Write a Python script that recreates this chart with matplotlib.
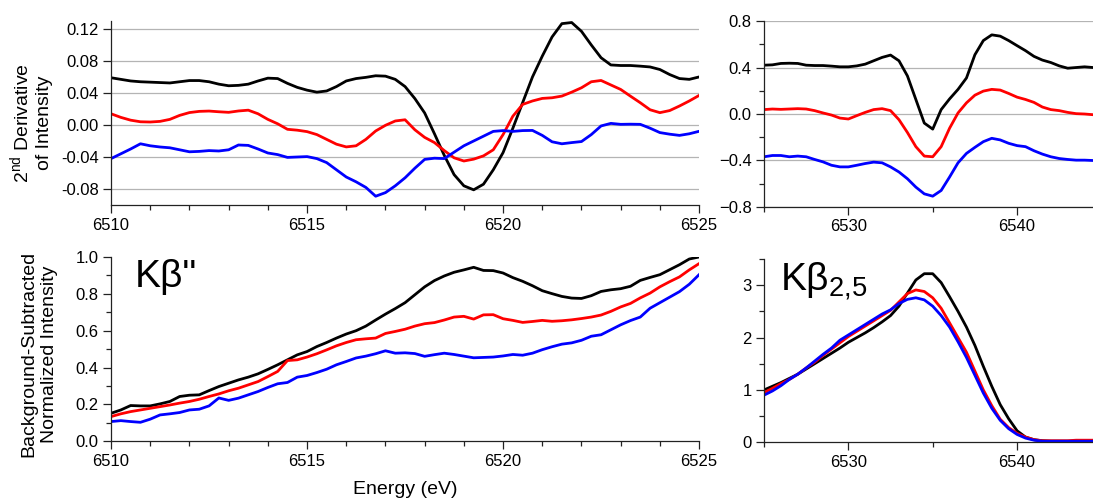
import numpy as np
import matplotlib
matplotlib.use("Agg")
import matplotlib.pyplot as plt
from matplotlib.ticker import MultipleLocator

plt.rcParams["font.family"] = ["Liberation Sans", "DejaVu Sans"]
plt.rcParams["mathtext.fontset"] = "custom"
plt.rcParams["mathtext.rm"] = "Liberation Sans"
plt.rcParams["mathtext.default"] = "regular"

# pre-edge region (Kb''), 0.25 eV steps
e_pre = np.arange(6510, 6525.001, 0.25)
# main line region (Kb2,5), 0.5 eV steps
e_main = np.arange(6525, 6544.501, 0.5)

d2_pre_black = [0.059, 0.057, 0.055, 0.054, 0.0535, 0.053, 0.0525, 0.054, 0.0555, 0.0555,
                0.054, 0.051, 0.049, 0.0495, 0.051, 0.055, 0.0585, 0.058, 0.052, 0.047,
                0.0435, 0.041, 0.0425, 0.048, 0.055, 0.058, 0.0595, 0.0615, 0.061, 0.057,
                0.048, 0.033, 0.015, -0.011, -0.038, -0.062, -0.076, -0.081, -0.074, -0.056,
                -0.0345, -0.004, 0.028, 0.060, 0.086, 0.110, 0.1266, 0.128, 0.117, 0.100,
                0.084, 0.075, 0.0743, 0.0743, 0.0735, 0.0725, 0.0693, 0.063, 0.058, 0.057,
                0.060]
d2_pre_red = [0.014, 0.0095, 0.006, 0.004, 0.0037, 0.0045, 0.007, 0.012, 0.0155, 0.017,
              0.0174, 0.0165, 0.0158, 0.0175, 0.0185, 0.014, 0.007, 0.0015, -0.0054, -0.0065,
              -0.0083, -0.012, -0.018, -0.024, -0.0274, -0.026, -0.018, -0.0075, -0.0004, 0.005,
              0.0065, -0.006, -0.0155, -0.022, -0.032, -0.041, -0.045, -0.0427, -0.0386, -0.031,
              -0.012, 0.011, 0.0257, 0.030, 0.0332, 0.034, 0.0361, 0.041, 0.0465, 0.054,
              0.0556, 0.050, 0.0444, 0.036, 0.0278, 0.019, 0.0154, 0.018, 0.0237, 0.030,
              0.0369]
d2_pre_blue = [-0.042, -0.036, -0.030, -0.0235, -0.026, -0.0275, -0.0285, -0.031, -0.0335, -0.033,
               -0.032, -0.0325, -0.031, -0.025, -0.0255, -0.030, -0.035, -0.037, -0.0405, -0.040,
               -0.0395, -0.042, -0.047, -0.056, -0.065, -0.071, -0.078, -0.089, -0.0845, -0.076,
               -0.066, -0.054, -0.043, -0.0415, -0.042, -0.034, -0.026, -0.020, -0.014, -0.008,
               -0.007, -0.008, -0.007, -0.0068, -0.013, -0.021, -0.0235, -0.022, -0.0207, -0.012,
               -0.0012, 0.002, 0.0008, 0.001, 0.0008, -0.004, -0.0095, -0.0115, -0.013, -0.011,
               -0.0079]

d2_main_black = [0.420, 0.423, 0.435, 0.437, 0.435, 0.420, 0.417, 0.417, 0.412, 0.406,
                 0.406, 0.414, 0.429, 0.458, 0.487, 0.507, 0.458, 0.328, 0.125, -0.078,
                 -0.130, 0.038, 0.130, 0.212, 0.310, 0.510, 0.632, 0.681, 0.670, 0.632,
                 0.588, 0.545, 0.496, 0.464, 0.443, 0.414, 0.394, 0.400, 0.406, 0.400]
d2_main_red = [0.038, 0.043, 0.040, 0.043, 0.046, 0.043, 0.029, 0.009, -0.009, -0.035,
               -0.043, -0.014, 0.014, 0.038, 0.046, 0.029, -0.049, -0.159, -0.281, -0.362,
               -0.368, -0.281, -0.122, 0.009, 0.096, 0.162, 0.197, 0.212, 0.206, 0.177,
               0.145, 0.125, 0.100, 0.060, 0.038, 0.029, 0.014, 0.003, 0.000, -0.006]
d2_main_blue = [-0.368, -0.357, -0.357, -0.368, -0.362, -0.368, -0.391, -0.412, -0.441, -0.455,
                -0.455, -0.441, -0.426, -0.414, -0.420, -0.455, -0.499, -0.557, -0.629, -0.687,
                -0.707, -0.658, -0.542, -0.420, -0.339, -0.287, -0.238, -0.209, -0.223, -0.252,
                -0.272, -0.281, -0.316, -0.345, -0.368, -0.383, -0.391, -0.397, -0.397, -0.400]

int_pre_black = [0.152, 0.170, 0.194, 0.192, 0.192, 0.203, 0.216, 0.243, 0.250, 0.252,
                 0.275, 0.297, 0.315, 0.333, 0.348, 0.366, 0.390, 0.415, 0.442, 0.469,
                 0.487, 0.514, 0.536, 0.560, 0.582, 0.600, 0.625, 0.658, 0.690, 0.720,
                 0.752, 0.795, 0.838, 0.872, 0.897, 0.917, 0.930, 0.944, 0.927, 0.926,
                 0.913, 0.888, 0.868, 0.844, 0.817, 0.801, 0.786, 0.777, 0.775, 0.790,
                 0.813, 0.822, 0.828, 0.841, 0.873, 0.889, 0.904, 0.931, 0.958, 0.989,
                 1.000]
int_pre_red = [0.134, 0.149, 0.161, 0.170, 0.179, 0.188, 0.197, 0.207, 0.216, 0.228,
               0.243, 0.257, 0.274, 0.288, 0.306, 0.324, 0.351, 0.379, 0.438, 0.442,
               0.457, 0.475, 0.496, 0.518, 0.536, 0.551, 0.556, 0.560, 0.585, 0.596,
               0.608, 0.625, 0.638, 0.644, 0.658, 0.674, 0.678, 0.663, 0.686, 0.687,
               0.665, 0.656, 0.645, 0.650, 0.656, 0.651, 0.654, 0.659, 0.666, 0.674,
               0.685, 0.705, 0.729, 0.748, 0.778, 0.804, 0.838, 0.866, 0.892, 0.930,
               0.964]
int_pre_blue = [0.107, 0.112, 0.107, 0.103, 0.120, 0.143, 0.149, 0.156, 0.170, 0.174,
                0.192, 0.235, 0.222, 0.234, 0.252, 0.270, 0.292, 0.312, 0.319, 0.348,
                0.357, 0.373, 0.391, 0.415, 0.433, 0.452, 0.462, 0.475, 0.491, 0.478,
                0.480, 0.476, 0.461, 0.470, 0.478, 0.471, 0.462, 0.453, 0.455, 0.457,
                0.463, 0.471, 0.467, 0.478, 0.497, 0.513, 0.527, 0.534, 0.548, 0.570,
                0.578, 0.605, 0.632, 0.655, 0.674, 0.722, 0.752, 0.782, 0.812, 0.852,
                0.904]

int_main_black = [1.00, 1.07, 1.14, 1.22, 1.30, 1.40, 1.50, 1.60, 1.70, 1.80,
                  1.91, 2.00, 2.09, 2.19, 2.30, 2.42, 2.60, 2.85, 3.10, 3.22,
                  3.22, 3.05, 2.78, 2.50, 2.20, 1.85, 1.45, 1.07, 0.72, 0.45,
                  0.22, 0.10, 0.05, 0.03, 0.02, 0.02, 0.02, 0.02, 0.03, 0.03]
int_main_red = [0.95, 1.03, 1.12, 1.20, 1.30, 1.42, 1.53, 1.66, 1.78, 1.90,
                2.02, 2.12, 2.22, 2.32, 2.42, 2.52, 2.68, 2.84, 2.91, 2.88,
                2.76, 2.56, 2.28, 2.00, 1.72, 1.36, 1.00, 0.70, 0.44, 0.28,
                0.17, 0.10, 0.05, 0.03, 0.03, 0.03, 0.03, 0.04, 0.04, 0.04]
int_main_blue = [0.90, 0.98, 1.08, 1.20, 1.30, 1.42, 1.55, 1.68, 1.80, 1.95,
                 2.05, 2.15, 2.25, 2.35, 2.45, 2.53, 2.65, 2.73, 2.76, 2.72,
                 2.60, 2.42, 2.20, 1.92, 1.62, 1.28, 0.94, 0.65, 0.42, 0.26,
                 0.15, 0.08, 0.04, 0.02, 0.02, 0.02, 0.02, 0.02, 0.02, 0.02]

colors = ["black", "#ff0000", "#0000ff"]
lw = 2.0

fig = plt.figure(figsize=(10.93, 5.03), dpi=100)
ax_tl = fig.add_axes([0.1016, 0.5924, 0.538, 0.366])
ax_tr = fig.add_axes([0.699, 0.5885, 0.301, 0.3697])
ax_bl = fig.add_axes([0.1016, 0.1227, 0.538, 0.3664])
ax_br = fig.add_axes([0.699, 0.1207, 0.301, 0.3643])

for ax in (ax_tl, ax_tr, ax_bl, ax_br):
    for s in ("top", "right"):
        ax.spines[s].set_visible(False)
    for s in ("left", "bottom"):
        ax.spines[s].set_linewidth(0.9)
        ax.spines[s].set_color("#222222")
    ax.tick_params(which="major", length=5.5, width=0.9, labelsize=12, color="#222222")
    ax.tick_params(which="minor", length=3.5, width=0.9, color="#222222")

for ys, c in zip([d2_pre_black, d2_pre_red, d2_pre_blue], colors):
    ax_tl.plot(e_pre, ys, color=c, lw=lw)
for ys, c in zip([d2_main_black, d2_main_red, d2_main_blue], colors):
    ax_tr.plot(e_main, ys, color=c, lw=lw)
for ys, c in zip([int_pre_black, int_pre_red, int_pre_blue], colors):
    ax_bl.plot(e_pre, ys, color=c, lw=lw)
for ys, c in zip([int_main_black, int_main_red, int_main_blue], colors):
    ax_br.plot(e_main, ys, color=c, lw=lw)

# top left
ax_tl.set_xlim(6510, 6525)
ax_tl.set_ylim(-0.1, 0.13)
ax_tl.set_yticks([-0.08, -0.04, 0.0, 0.04, 0.08, 0.12])
ax_tl.set_yticklabels(["-0.08", "-0.04", "0.00", "0.04", "0.08", "0.12"])
ax_tl.xaxis.set_major_locator(MultipleLocator(5))
ax_tl.xaxis.set_minor_locator(MultipleLocator(1))
ax_tl.grid(axis="y", color="#b4b4b4", lw=0.9)
ax_tl.set_axisbelow(True)
ax_tl.set_ylabel("2$^{nd}$ Derivative\nof Intensity", fontsize=14, linespacing=1.3)
ax_tl.yaxis.set_label_coords(-0.099, 0.446)

# top right
ax_tr.set_xlim(6525, 6544.5)
ax_tr.set_ylim(-0.8, 0.8)
ax_tr.set_yticks([-0.8, -0.4, 0.0, 0.4, 0.8])
ax_tr.yaxis.set_minor_locator(MultipleLocator(0.2))
ax_tr.xaxis.set_major_locator(MultipleLocator(10))
ax_tr.xaxis.set_minor_locator(MultipleLocator(5))
ax_tr.grid(axis="y", color="#b4b4b4", lw=0.9)
ax_tr.set_axisbelow(True)

# bottom left
ax_bl.set_xlim(6510, 6525)
ax_bl.set_ylim(0, 1.0)
ax_bl.yaxis.set_major_locator(MultipleLocator(0.2))
ax_bl.yaxis.set_minor_locator(MultipleLocator(0.1))
ax_bl.xaxis.set_major_locator(MultipleLocator(5))
ax_bl.xaxis.set_minor_locator(MultipleLocator(1))
ax_bl.set_ylabel("Background-Subtracted\nNormalized Intensity", fontsize=14, linespacing=1.3)
ax_bl.yaxis.set_label_coords(-0.09, 0.474)
ax_bl.set_xlabel("Energy (eV)", fontsize=14)
ax_bl.xaxis.set_label_coords(0.5, -0.215)
ax_bl.text(0.04, 0.89, "K\u03b2\"", transform=ax_bl.transAxes, fontsize=28,
           ha="left", va="center")

# bottom right
ax_br.set_xlim(6525, 6544.5)
ax_br.set_ylim(0, 3.5)
ax_br.yaxis.set_major_locator(MultipleLocator(1))
ax_br.yaxis.set_minor_locator(MultipleLocator(0.5))
ax_br.xaxis.set_major_locator(MultipleLocator(10))
ax_br.xaxis.set_minor_locator(MultipleLocator(5))
ax_br.text(0.05, 0.88, "K\u03b2$_{2{,}5}$", transform=ax_br.transAxes, fontsize=28,
           ha="left", va="center")

fig.savefig("out.png", dpi=100)
